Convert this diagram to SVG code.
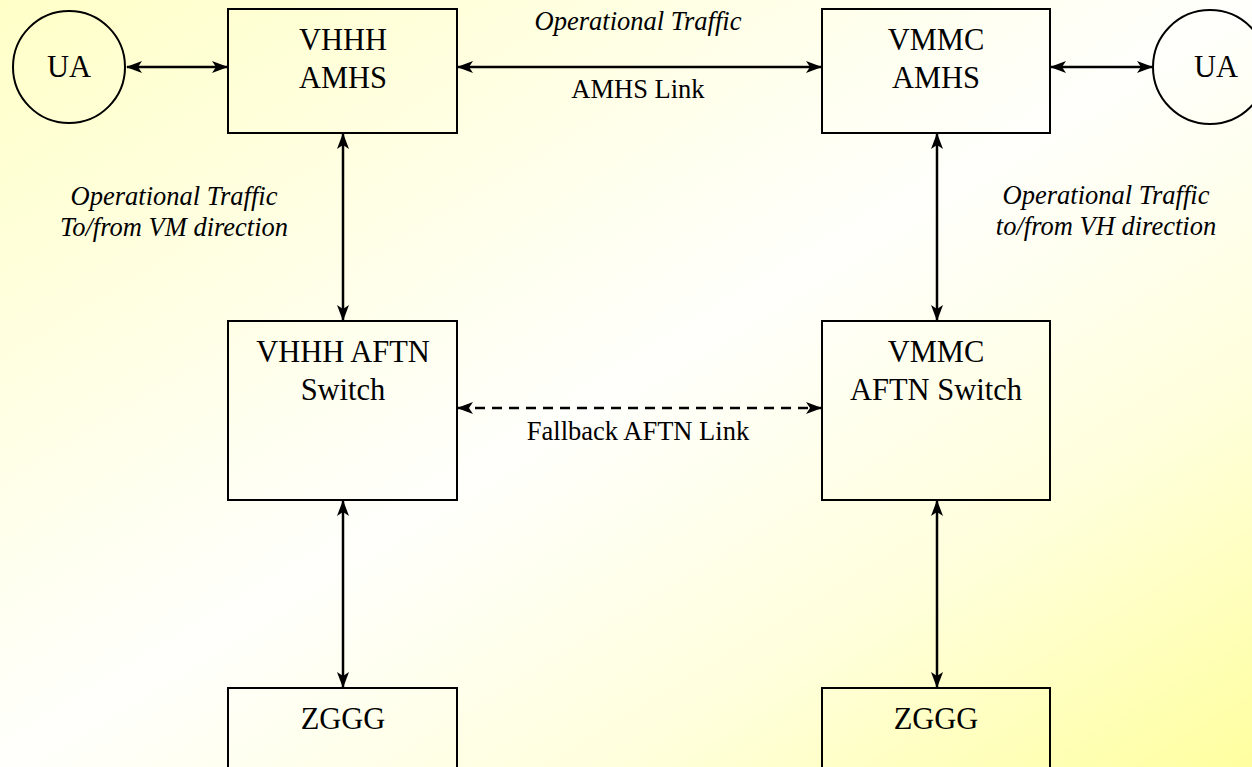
<svg xmlns="http://www.w3.org/2000/svg" width="1252" height="767" viewBox="0 0 1252 767">
<defs>
<linearGradient id="bg" x1="0" y1="0" x2="1" y2="1">
<stop offset="0" stop-color="#ffffc8"/>
<stop offset="0.25" stop-color="#ffffe2"/>
<stop offset="0.5" stop-color="#fffffc"/>
<stop offset="0.75" stop-color="#ffffdc"/>
<stop offset="1" stop-color="#ffffa0"/>
</linearGradient>
<marker id="ah" viewBox="0 0 16 12" refX="15" refY="6" markerWidth="16" markerHeight="12" markerUnits="userSpaceOnUse" orient="auto-start-reverse">
<path d="M0,0 L16,6 L0,12 L4,6 Z" fill="#000"/>
</marker>
<style>
.box{fill:none;stroke:#000;stroke-width:2}
.nt{font-family:"Liberation Serif","Times New Roman",serif;font-size:30.5px;fill:#000;text-anchor:middle}
.lt{font-family:"Liberation Serif","Times New Roman",serif;font-size:26.5px;fill:#000;text-anchor:middle}
.it{font-style:italic}
.cn{stroke:#000;stroke-width:2.5;fill:none;marker-start:url(#ah);marker-end:url(#ah)}
.dash{stroke-dasharray:10,7}
</style>
</defs>
<rect x="0" y="0" width="1252" height="767" fill="url(#bg)"/>

<g id="connectors">
<line class="cn" x1="127" y1="67" x2="227" y2="67"/>
<line class="cn" x1="458" y1="67" x2="821" y2="67"/>
<line class="cn" x1="1051" y1="67" x2="1152" y2="67"/>
<line class="cn" x1="343" y1="134" x2="343" y2="320"/>
<line class="cn" x1="937" y1="134" x2="937" y2="320"/>
<line class="cn dash" x1="458" y1="408" x2="821" y2="408"/>
<line class="cn" x1="343" y1="501" x2="343" y2="687"/>
<line class="cn" x1="937" y1="501" x2="937" y2="687"/>
<text class="lt it" x="638" y="30">Operational Traffic</text>
<text class="lt" x="638" y="98">AMHS Link</text>
<text class="lt it" x="174" y="205">Operational Traffic</text>
<text class="lt it" x="174" y="236">To/from VM direction</text>
<text class="lt it" x="1106" y="204">Operational Traffic</text>
<text class="lt it" x="1106" y="235">to/from VH direction</text>
<text class="lt" x="638" y="440">Fallback AFTN Link</text>
</g>

<g id="ua-left">
<circle class="box" cx="69" cy="67" r="56"/>
<text class="nt" x="69" y="77">UA</text>
</g>
<g id="vhhh-amhs">
<rect class="box" x="228" y="9" width="229" height="124"/>
<text class="nt" x="343" y="50">VHHH</text>
<text class="nt" x="343" y="88">AMHS</text>
</g>
<g id="vmmc-amhs">
<rect class="box" x="822" y="9" width="228" height="124"/>
<text class="nt" x="936" y="50">VMMC</text>
<text class="nt" x="936" y="88">AMHS</text>
</g>
<g id="ua-right">
<circle class="box" cx="1210" cy="67" r="57"/>
<text class="nt" x="1216" y="77">UA</text>
</g>
<g id="vhhh-aftn">
<rect class="box" x="228" y="321" width="229" height="179"/>
<text class="nt" x="343" y="362">VHHH AFTN</text>
<text class="nt" x="343" y="400">Switch</text>
</g>
<g id="vmmc-aftn">
<rect class="box" x="822" y="321" width="228" height="179"/>
<text class="nt" x="936" y="362">VMMC</text>
<text class="nt" x="936" y="400">AFTN Switch</text>
</g>
<g id="zggg-left">
<rect class="box" x="228" y="688" width="229" height="100"/>
<text class="nt" x="343" y="729">ZGGG</text>
</g>
<g id="zggg-right">
<rect class="box" x="822" y="688" width="228" height="100"/>
<text class="nt" x="936" y="729">ZGGG</text>
</g>
</svg>
